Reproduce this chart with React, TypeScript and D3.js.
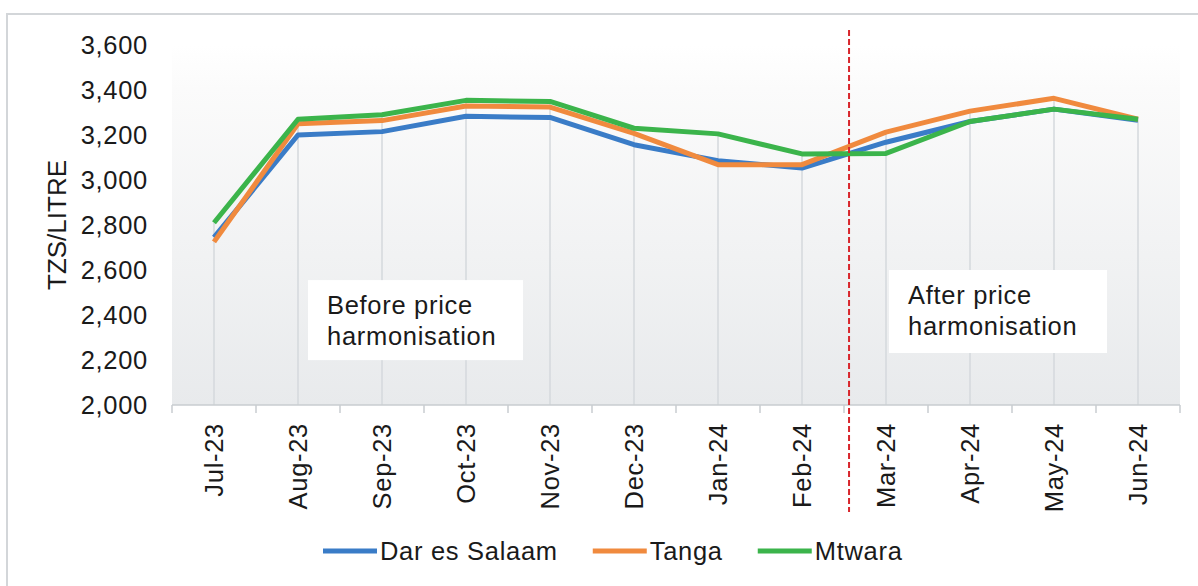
import * as d3 from "d3";
import { useEffect, useRef } from "react";

const months = [
  "Jul-23", "Aug-23", "Sep-23", "Oct-23", "Nov-23", "Dec-23",
  "Jan-24", "Feb-24", "Mar-24", "Apr-24", "May-24", "Jun-24",
];
const darEsSalaam = [2745, 3200, 3215, 3283, 3278, 3157, 3086, 3053, 3168, 3260, 3315, 3266];
const tanga = [2725, 3250, 3264, 3329, 3324, 3207, 3068, 3068, 3213, 3306, 3363, 3270];
const mtwara = [2810, 3270, 3290, 3354, 3349, 3230, 3205, 3116, 3118, 3260, 3315, 3270];
const seriesNames = ["Dar es Salaam", "Tanga", "Mtwara"];
const yTicks = [2000, 2200, 2400, 2600, 2800, 3000, 3200, 3400, 3600];

const colors = ["#3a7cc7", "#f08a3e", "#3bb44b"];
const FONT = "'Liberation Sans', Arial, sans-serif";
const FS = 25.5;
const LS = 0.7;

export default function App() {
  const svgRef = useRef<SVGSVGElement>(null);

  useEffect(() => {
    if (!svgRef.current) return;
    const svg = d3.select(svgRef.current);
    svg.selectAll("*").remove();

    const W = 1198;
    const H = 586;
    const left = 172;
    const right = 1180;
    const top = 45;
    const bottom = 405;

    const x = d3.scaleBand<string>().domain(months).range([left, right]).paddingInner(0).paddingOuter(0);
    const cx = (m: string) => (x(m) ?? 0) + x.bandwidth() / 2;
    const y = d3.scaleLinear().domain([2000, 3600]).range([bottom, top]);

    const series = [darEsSalaam, tanga, mtwara];

    // outer frame
    svg.append("rect")
      .attr("x", 7).attr("y", 14)
      .attr("width", W + 20).attr("height", H + 20)
      .attr("fill", "white")
      .attr("stroke", "#d3d6d9")
      .attr("stroke-width", 2);

    // plot background gradient
    const defs = svg.append("defs");
    const grad = defs.append("linearGradient")
      .attr("id", "plot-bg").attr("x1", "0").attr("x2", "0").attr("y1", "0").attr("y2", "1");
    grad.append("stop").attr("offset", "0%").attr("stop-color", "#ffffff");
    grad.append("stop").attr("offset", "12%").attr("stop-color", "#fbfbfb");
    grad.append("stop").attr("offset", "100%").attr("stop-color", "#e8eaec");

    svg.append("rect")
      .attr("x", left).attr("y", top)
      .attr("width", right - left).attr("height", bottom - top)
      .attr("fill", "url(#plot-bg)");

    // drop lines from highest point to axis
    svg.append("g").selectAll("line")
      .data(months)
      .join("line")
      .attr("x1", (m) => cx(m)).attr("x2", (m) => cx(m))
      .attr("y1", (_, i) => y(Math.max(...series.map((s) => s[i]))))
      .attr("y2", bottom)
      .attr("stroke", "#d5d9dd")
      .attr("stroke-width", 1.5);

    // x axis
    const xAxis = svg.append("g");
    xAxis.append("line")
      .attr("x1", left).attr("x2", right)
      .attr("y1", bottom).attr("y2", bottom)
      .attr("stroke", "#c9cdd1").attr("stroke-width", 1.5);
    xAxis.selectAll("line.tick")
      .data([...months.map((m) => x(m) ?? 0), right])
      .join("line")
      .attr("class", "tick")
      .attr("x1", (d) => d).attr("x2", (d) => d)
      .attr("y1", bottom).attr("y2", bottom + 8)
      .attr("stroke", "#c9cdd1").attr("stroke-width", 1.5);
    xAxis.selectAll("text")
      .data(months)
      .join("text")
      .attr("transform", (m) => `translate(${cx(m)},${bottom + 18}) rotate(-90)`)
      .attr("text-anchor", "end")
      .attr("dominant-baseline", "central")
      .attr("font-family", FONT)
      .attr("font-size", FS)
      .attr("letter-spacing", LS)
      .attr("fill", "#1a1a1a")
      .text((m) => m);

    // y tick labels
    svg.append("g").selectAll("text")
      .data(yTicks)
      .join("text")
      .attr("x", 148)
      .attr("y", (d) => y(d))
      .attr("text-anchor", "end")
      .attr("dominant-baseline", "central")
      .attr("font-family", FONT)
      .attr("font-size", FS)
      .attr("letter-spacing", LS)
      .attr("fill", "#1a1a1a")
      .text((d) => d3.format(",")(d));

    svg.append("text")
      .attr("transform", `translate(57,${y(2800)}) rotate(-90)`)
      .attr("text-anchor", "middle")
      .attr("dominant-baseline", "central")
      .attr("font-family", FONT)
      .attr("font-size", 26)
      .attr("fill", "#1a1a1a")
      .text("TZS/LITRE");

    // annotation boxes
    const notes = [
      { x0: cx("Aug-23") + 10, top: y(2555), w: 215, h: 80, lines: ["Before price", "harmonisation"] },
      { x0: cx("Mar-24") + 3, top: y(2600), w: 218, h: 83, lines: ["After price", "harmonisation"] },
    ];
    notes.forEach((n) => {
      const g = svg.append("g");
      g.append("rect")
        .attr("x", n.x0).attr("y", n.top)
        .attr("width", n.w).attr("height", n.h)
        .attr("fill", "white");
      n.lines.forEach((t, i) => {
        g.append("text")
          .attr("x", n.x0 + 19)
          .attr("y", n.top + 34 + i * 31)
          .attr("font-family", FONT)
          .attr("font-size", FS)
          .attr("letter-spacing", LS)
          .attr("fill", "#1a1a1a")
          .text(t);
      });
    });

    // lines
    const line = d3.line<number>()
      .x((_, i) => cx(months[i]))
      .y((d) => y(d));

    series.forEach((s, i) => {
      svg.append("path")
        .datum(s)
        .attr("fill", "none")
        .attr("stroke", colors[i])
        .attr("stroke-width", 5)
        .attr("stroke-linejoin", "round")
        .attr("d", line);
    });

    // divider between before/after
    const divX = cx("Mar-24") - x.bandwidth() * 0.44;
    svg.append("line")
      .attr("x1", divX).attr("x2", divX)
      .attr("y1", 30).attr("y2", 512)
      .attr("stroke", "#d8262c")
      .attr("stroke-width", 2)
      .attr("stroke-dasharray", "6,3");

    // legend
    const legend = svg.append("g").attr("transform", "translate(323,551)");
    let lx = 0;
    seriesNames.forEach((name, i) => {
      legend.append("line")
        .attr("x1", lx).attr("x2", lx + 54)
        .attr("y1", 0).attr("y2", 0)
        .attr("stroke", colors[i])
        .attr("stroke-width", 5);
      const t = legend.append("text")
        .attr("x", lx + 57)
        .attr("y", 0)
        .attr("dominant-baseline", "central")
        .attr("font-family", FONT)
        .attr("font-size", FS)
        .attr("letter-spacing", LS)
        .attr("fill", "#1a1a1a")
        .text(name);
      const tw = (t.node() as SVGTextElement).getComputedTextLength();
      lx += 57 + tw + 35;
    });
  }, []);

  return (
    <svg
      ref={svgRef}
      width={1198}
      height={586}
      style={{ position: "absolute", left: 0, top: 0, display: "block" }}
    />
  );
}
